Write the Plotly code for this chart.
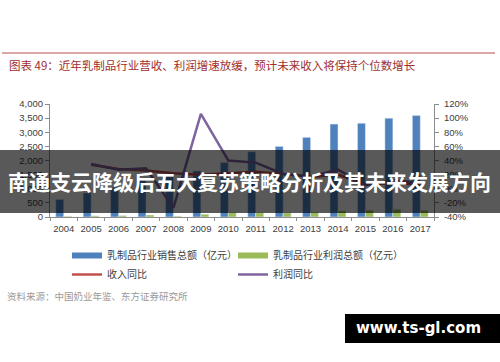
import plotly.graph_objects as go

years = ["2004", "2005", "2006", "2007", "2008", "2009", "2010",
         "2011", "2012", "2013", "2014", "2015", "2016", "2017"]
revenue = [620, 850, 1040, 1330, 1430, 1630, 1930, 2310, 2500, 2820, 3290, 3320, 3500, 3590]
profit = [25, 40, 50, 70, 30, 100, 160, 150, 150, 170, 215, 240, 275, 240]
rev_yoy = [None, 34, 28, 26, 22, 20, 22, 24, 21, 17, 20, 6, 8, 6]
profit_yoy = [None, 35, 27, 29, -27, 106, 40, 37, 21, 17, 27, 5, 12, 8]
left_ticks = [0, 500, 1000, 1500, 2000, 2500, 3000, 3500, 4000]
right_ticks = [-40, -20, 0, 20, 40, 60, 80, 100, 120]
right_labels = ["-40%", "-20%", "0%", "20%", "40%", "60%", "80%", "100%", "120%"]

names = ["乳制品行业销售总额（亿元）", "乳制品行业利润总额（亿元）", "收入同比", "利润同比"]
title_text = "图表 49：近年乳制品行业营收、利润增速放缓，预计未来收入将保持个位数增长"
source_text = "资料来源：中国奶业年鉴、东方证券研究所"
banner_text = "南通支云降级后五大复苏策略分析及其未来发展方向"
mark_text = "www.ts-gl.com"

BLUE = "#4F81BD"
GREEN = "#9BBB59"
RED = "#C0504D"
PURPLE = "#8064A2"

W, H = 500, 362
L, R, T, B = 50, 66, 104, 145
PW, PH = W - L - R, H - T - B

def px(x):
    return (x - L) / PW

def py(y):
    return (H - B - y) / PH

CJK = "Noto Sans CJK SC"

fig = go.Figure()
fig.add_trace(go.Bar(x=years, y=revenue, name=names[0], marker_color=BLUE,
                     showlegend=False, yaxis="y"))
fig.add_trace(go.Bar(x=years, y=profit, name=names[1], marker_color=GREEN,
                     showlegend=False, yaxis="y"))
fig.add_trace(go.Scatter(x=[None], y=[None], mode="lines", name=names[0],
                         line=dict(color=BLUE, width=6)))
fig.add_trace(go.Scatter(x=[None], y=[None], mode="lines", name=names[1],
                         line=dict(color=GREEN, width=6)))
fig.add_trace(go.Scatter(x=years, y=rev_yoy, mode="lines", name=names[2],
                         line=dict(color=RED, width=2.5), yaxis="y2"))
fig.add_trace(go.Scatter(x=years, y=profit_yoy, mode="lines", name=names[3],
                         line=dict(color=PURPLE, width=2.5), yaxis="y2"))

axis_col = "#8C8C8C"
tick_font = dict(family="Liberation Sans, Arial", size=9.5, color="#404040")

fig.update_layout(
    width=W, height=H,
    margin=dict(l=L, r=R, t=T, b=B, pad=0, autoexpand=False),
    paper_bgcolor="white", plot_bgcolor="white",
    barmode="group", bargap=0.42, bargroupgap=0,
    xaxis=dict(type="category", showgrid=False, showline=True, linecolor=axis_col,
               ticks="outside", ticklen=3, tickcolor=axis_col, tickson="boundaries",
               tickfont=tick_font, tickangle=0, ticklabelstandoff=3, zeroline=False),
    yaxis=dict(range=[0, 4000], tickvals=left_ticks, tickformat=",d",
               showgrid=False, showline=True, linecolor=axis_col, ticks="outside",
               ticklen=4, tickcolor=axis_col, tickfont=tick_font, zeroline=False),
    yaxis2=dict(range=[-40, 120], tickvals=right_ticks, ticktext=right_labels,
                overlaying="y", side="right", showgrid=False, showline=True,
                linecolor=axis_col, ticks="outside", ticklen=4, tickcolor=axis_col,
                tickfont=tick_font, ticklabelstandoff=3, zeroline=False),
    legend=dict(orientation="h", x=px(67), y=py(241), xanchor="left", yanchor="top",
                entrywidth=121, entrywidthmode="pixels", traceorder="normal",
                font=dict(family=CJK, size=10, color="#404040"),
                bgcolor="rgba(0,0,0,0)"),
    shapes=[
        dict(type="line", xref="paper", yref="paper", x0=px(2), x1=px(495),
             y0=py(53), y1=py(53), line=dict(color="#B5524F", width=1)),
        dict(type="rect", xref="paper", yref="paper", x0=px(0), x1=px(500),
             y0=py(213), y1=py(150), fillcolor="rgba(0,0,0,0.65)", line=dict(width=0),
             layer="above"),
        dict(type="rect", xref="paper", yref="paper", x0=px(345), x1=px(500),
             y0=py(343), y1=py(314), fillcolor="black", line=dict(width=0),
             layer="above"),
    ],
    annotations=[
        dict(text=title_text, xref="paper", yref="paper", x=px(7), y=py(65),
             xanchor="left", yanchor="middle", showarrow=False,
             font=dict(family=CJK, size=11.5, color="#A02E2E")),
        dict(text=source_text, xref="paper", yref="paper", x=px(5), y=py(296),
             xanchor="left", yanchor="middle", showarrow=False,
             font=dict(family=CJK, size=9.5, color="#9A9A9A")),
        dict(text="<b>" + banner_text + "</b>", xref="paper", yref="paper", x=px(6),
             y=py(181), xanchor="left", yanchor="middle", showarrow=False,
             font=dict(family=CJK, size=21, color="white")),
        dict(text="<b>" + mark_text + "</b>", xref="paper", yref="paper", x=px(418),
             y=py(328), xanchor="center", yanchor="middle", showarrow=False,
             font=dict(family="DejaVu Sans, Open Sans", size=15, color="white")),
    ],
)

fig.write_html("out.html", config={"displayModeBar": False},
               post_script="document.body.style.margin='0';")
